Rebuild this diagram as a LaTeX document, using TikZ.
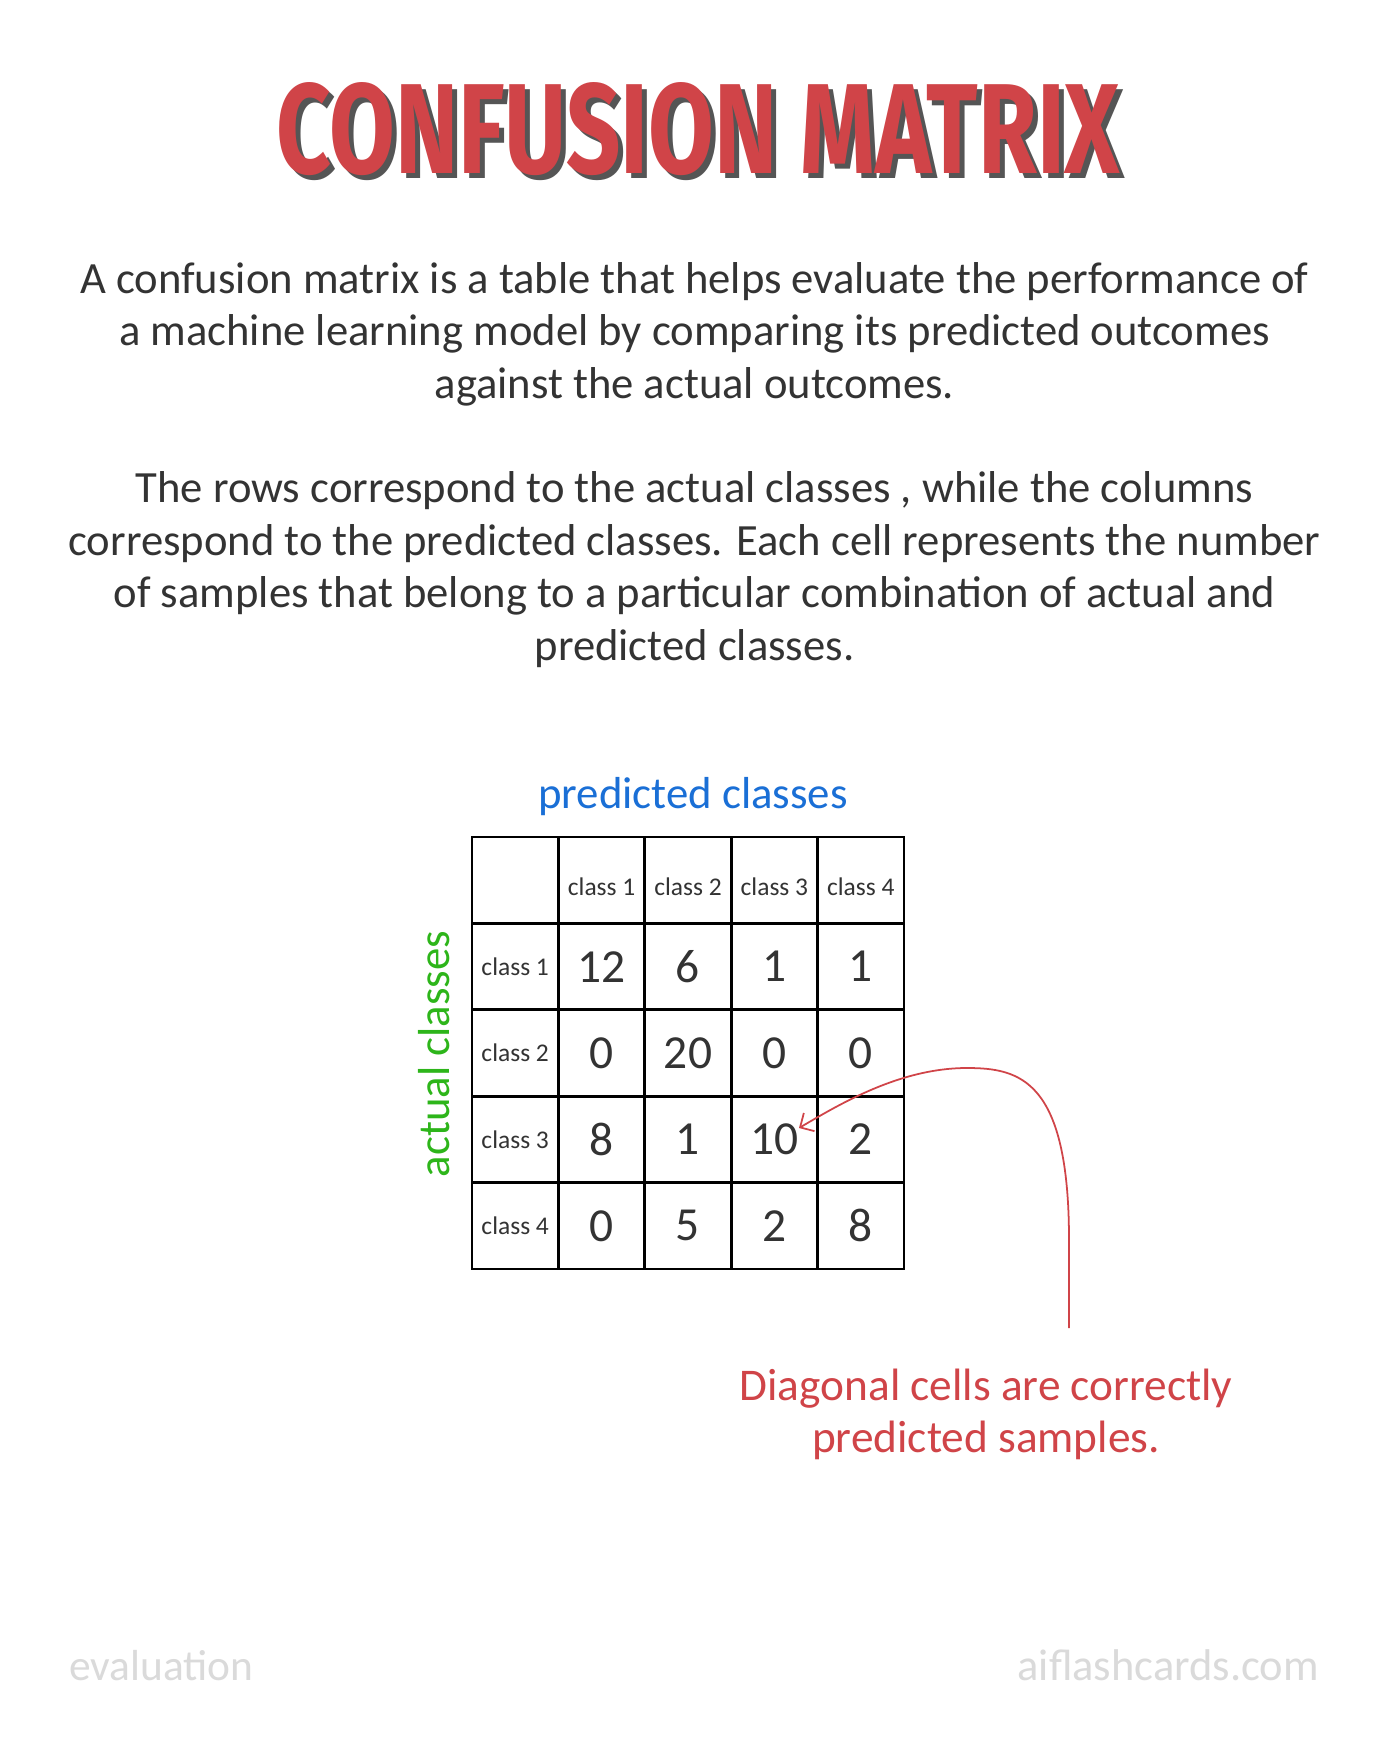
\documentclass[tikz,border=0pt]{standalone}
\usepackage{graphicx}
\usepackage{fontspec}
\setmainfont{Carlito}
\newfontfamily\titlefont{Fira Sans}
\usetikzlibrary{arrows.meta}
\definecolor{cmred}{HTML}{D04448}
\definecolor{cmshadow}{HTML}{555555}
\definecolor{cmtext}{HTML}{333333}
\definecolor{cmblue}{HTML}{1A6FD6}
\definecolor{cmgreen}{HTML}{2DB51A}
\definecolor{cmgrey}{HTML}{DADADA}

\begin{document}
\begin{tikzpicture}[x=0.02cm,y=-0.02cm,
  cell/.style={draw=black,line width=1.5pt,minimum width=1.728cm,minimum height=1.728cm,inner sep=0pt,text=cmtext},
  body/.style={align=center,text=cmtext,inner sep=0pt,anchor=base,font=\fontsize{25.4pt}{29.8pt}\selectfont},
  footer/.style={text=cmgrey,inner sep=0pt,font=\fontsize{24.7pt}{29pt}\selectfont}]
\useasboundingbox[fill=white] (0,0) rectangle (1389,1737);
% the title with its shadow
\node[font=\titlefont\bfseries,text=cmshadow,anchor=base west,inner sep=0pt] (titleshadow) at (281,178) {\resizebox{16.88cm}{1.82cm}{CONFUSION MATRIX}};
\node[font=\titlefont\bfseries,text=cmred,anchor=base west,inner sep=0pt] (title) at (276,173) {\resizebox{16.88cm}{1.82cm}{CONFUSION MATRIX}};
% the two paragraphs (base is the last line)
\node[body] (intro) at (694.5,398) {A confusion matrix is a table that helps evaluate the performance of\\ a machine learning model by comparing its predicted outcomes\\ against the actual outcomes.};
\node[body] (rows) at (694.5,660) {The rows correspond to the actual classes , while the columns\\ correspond to the predicted classes. Each cell represents the number\\ of samples that belong to a particular combination of actual and\\ predicted classes.};
% the axis labels
\node[text=cmblue,anchor=base,inner sep=0pt,font=\fontsize{25.5pt}{30pt}\selectfont] (predicted) at (693,808) {predicted classes};
\node[text=cmgreen,anchor=base,inner sep=0pt,rotate=90,font=\fontsize{25.5pt}{30pt}\selectfont] (actual) at (449,1054) {actual classes};
% the corner and the class labels
\node[cell] (c00) at (515.2,880.2) {};
\foreach \k in {1,2,3,4} {
  \node[cell,font=\fontsize{14.5pt}{16pt}\selectfont] (c0\k) at (515.2+86.4*\k,880.2) {\raisebox{-8.5pt}[0pt][0pt]{class \k}};
  \node[cell,font=\fontsize{14.5pt}{16pt}\selectfont] (c\k0) at (515.2,880.2+86.4*\k) {class \k};
}
% the counts
\foreach \r/\vals in {1/{12,6,1,1},2/{0,20,0,0},3/{8,1,10,2},4/{0,5,2,8}}
  \foreach \v [count=\c] in \vals
    \node[cell,font=\fontsize{27pt}{30pt}\selectfont] (c\r\c) at (515.2+86.4*\c,880.2+86.4*\r) {\v};
% the note on the diagonal
\node[align=center,text=cmred,anchor=base,inner sep=0pt,font=\fontsize{25.8pt}{29.4pt}\selectfont] (note) at (986,1452) {Diagonal cells are correctly\\ predicted samples.};
\coordinate (notestart) at (1069,1328);
\coordinate (notetip) at (799,1128);
\draw[cmred,line width=1pt,-{Straight Barb[length=6pt,width=12pt]}] (notestart) -- (1069,1240)
  .. controls (1069,1080) and (1020,1068) .. (967,1068)
  .. controls (900,1068) and (840,1104) .. (notetip);
% the footer
\node[footer,anchor=base west] (topic) at (69,1680) {evaluation};
\node[footer,anchor=base east,font=\fontsize{25.3pt}{29pt}\selectfont] (site) at (1319,1680) {aiflashcards.com};
\end{tikzpicture}
\end{document}
